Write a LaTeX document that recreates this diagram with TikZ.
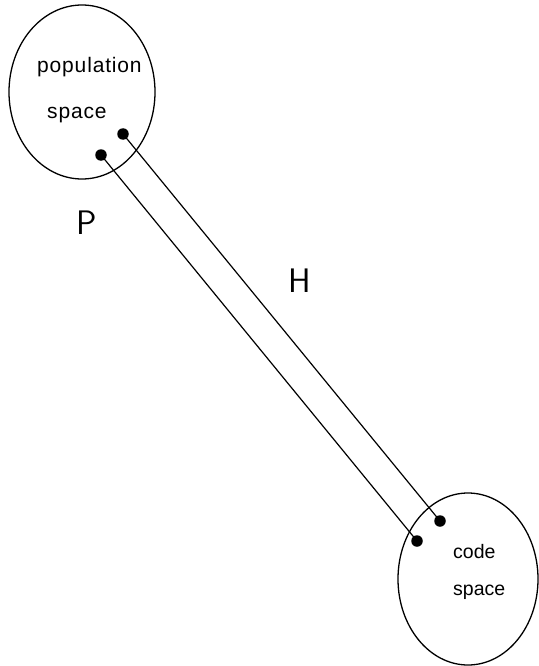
\documentclass[tikz,border=0pt]{standalone}
\usepackage{fontspec}
\setmainfont{Liberation Sans}
\usetikzlibrary{shapes.geometric}
\tikzset{
  space/.style={draw, ellipse, line width=1.3pt, inner sep=0pt},
  dot/.style={circle, fill=black, inner sep=0pt, minimum size=11.5pt},
  link/.style={line width=1.2pt},
  lbl/.style={anchor=base west, inner sep=0pt, font=\addfontfeatures{LetterSpace=4}\fontsize{21}{24}\selectfont},
  lblb/.style={anchor=base west, inner sep=0pt, font=\fontsize{19.5}{22}\selectfont},
  big/.style={anchor=base west, inner sep=0pt, font=\sffamily\fontsize{34}{38}\selectfont}
}
\begin{document}
\begin{tikzpicture}[x=1pt,y=-1pt]
\useasboundingbox (0,0) rectangle (538,666);
\node[space, minimum width=146pt, minimum height=174pt] (pop) at (82,92) {};
\node[space, minimum width=140pt, minimum height=172pt] (code) at (468,579) {};
\node[lbl] (t1) at (37,73) {population};
\node[lbl] (t2) at (47,119) {space};
\node[lblb] (t3) at (453,558) {code};
\node[lblb] (t4) at (453,595) {space};
\node[big] (P) at (76,234) {P};
\node[big] (H) at (288,292) {H};
\node[dot] (a1) at (123,134) {};
\node[dot] (a2) at (101,155) {};
\node[dot] (b1) at (440,521) {};
\node[dot] (b2) at (417,541) {};
\draw[link] (a1.center) -- (b1.center);
\draw[link] (a2.center) -- (b2.center);
\end{tikzpicture}
\end{document}
